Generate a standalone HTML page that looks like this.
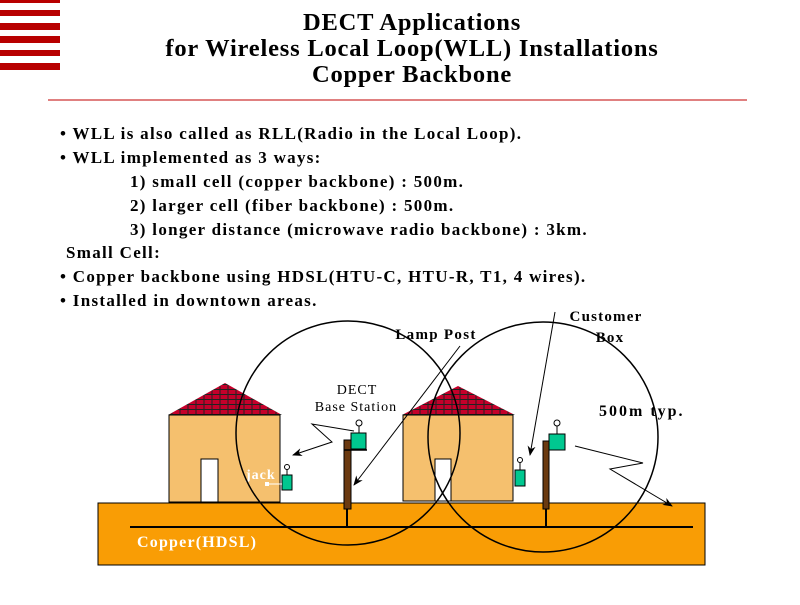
<!DOCTYPE html>
<html><head><style>body{margin:0;background:#fff}</style></head><body>
<svg width="800" height="600" xmlns="http://www.w3.org/2000/svg" font-family="Liberation Serif, serif" font-weight="bold">
<defs>
<pattern id="brick" width="8" height="5" patternUnits="userSpaceOnUse">
<rect width="8" height="5" fill="#c4002a"/>
<path d="M0 4.5H8M4 0V4.5" stroke="#222" stroke-width="1"/>
</pattern>
<marker id="ah" markerWidth="10" markerHeight="8" refX="9" refY="4" orient="auto"><path d="M0,0L10,4L0,8L3,4z" fill="#000"/></marker>
</defs>
<g fill="#b80000">
<rect x="0" y="0" width="60" height="3"/><rect x="0" y="10" width="60" height="6"/><rect x="0" y="23" width="60" height="7"/><rect x="0" y="36" width="60" height="7"/><rect x="0" y="50" width="60" height="6"/><rect x="0" y="63" width="60" height="7"/>
</g>
<g font-size="24.5" text-anchor="middle" letter-spacing="0.8">
<text x="412" y="30">DECT Applications</text>
<text x="412" y="56">for Wireless Local Loop(WLL) Installations</text>
<text x="412" y="82">Copper Backbone</text>
</g>
<line x1="48" y1="100" x2="747" y2="100" stroke="#c00000" stroke-width="1"/>
<g font-size="17" letter-spacing="1.3">
<text x="60" y="139">• WLL is also called as RLL(Radio in the Local Loop).</text>
<text x="60" y="163">• WLL implemented as 3 ways:</text>
<text x="130" y="187">1) small cell (copper backbone) : 500m.</text>
<text x="130" y="211">2) larger cell (fiber backbone) : 500m.</text>
<text x="130" y="235">3) longer distance (microwave radio backbone) : 3km.</text>
<text x="66" y="258">Small Cell:</text>
<text x="60" y="282">• Copper backbone using HDSL(HTU-C, HTU-R, T1, 4 wires).</text>
<text x="60" y="306">• Installed in downtown areas.</text>
</g>
<rect x="98" y="503" width="607" height="62" fill="#f99d05" stroke="#000"/>
<line x1="130" y1="527" x2="693" y2="527" stroke="#000" stroke-width="2"/>
<text x="137" y="547" font-size="16" fill="#fff" letter-spacing="1.2">Copper(HDSL)</text>
<polygon points="168,415 225,383 282,415" fill="url(#brick)"/>
<rect x="169" y="415" width="111" height="87" fill="#f5c06e" stroke="#000"/>
<rect x="201" y="459" width="17" height="43" fill="#fff" stroke="#000"/>
<polygon points="402,415 458,386 515,415" fill="url(#brick)"/>
<rect x="403" y="415" width="110" height="86" fill="#f5c06e" stroke="#000"/>
<rect x="435" y="459" width="16" height="42" fill="#fff" stroke="#000"/>
<line x1="347" y1="509" x2="347" y2="527" stroke="#000" stroke-width="2"/>
<rect x="344" y="440" width="7" height="69" fill="#6b3a10" stroke="#000"/>
<line x1="344" y1="450" x2="367" y2="450" stroke="#000" stroke-width="1.5"/>
<rect x="351" y="433" width="15" height="16" fill="#00c890" stroke="#000"/>
<circle cx="359" cy="423" r="3" fill="none" stroke="#000"/><line x1="359" y1="426" x2="359" y2="433" stroke="#000"/>
<line x1="546" y1="509" x2="546" y2="527" stroke="#000" stroke-width="2"/>
<rect x="543" y="441" width="6" height="68" fill="#6b3a10" stroke="#000"/>
<rect x="549" y="434" width="16" height="16" fill="#00c890" stroke="#000"/>
<circle cx="557" cy="423" r="3" fill="none" stroke="#000"/><line x1="557" y1="426" x2="557" y2="434" stroke="#000"/>
<rect x="282" y="475" width="10" height="15" fill="#00c890" stroke="#000"/>
<circle cx="287" cy="467" r="2.5" fill="none" stroke="#000"/><line x1="287" y1="469" x2="287" y2="475" stroke="#000"/>
<rect x="515" y="470" width="10" height="16" fill="#00c890" stroke="#000"/>
<circle cx="520" cy="460" r="2.5" fill="none" stroke="#000"/><line x1="520" y1="462" x2="520" y2="470" stroke="#000"/>
<text x="246" y="479" font-size="14" fill="#fff" letter-spacing="1">jack</text>
<rect x="265" y="482" width="4" height="4" fill="#fff"/><line x1="269" y1="484" x2="282" y2="484" stroke="#fff"/>
<circle cx="348" cy="433" r="112" fill="none" stroke="#000" stroke-width="1.5"/>
<circle cx="543" cy="437" r="115" fill="none" stroke="#000" stroke-width="1.5"/>
<text x="357" y="394" font-size="14" text-anchor="middle" font-weight="normal" letter-spacing="1">DECT</text>
<text x="356" y="411" font-size="14" text-anchor="middle" font-weight="normal" letter-spacing="1">Base Station</text>
<polyline points="354,431 312,424 332,442 293,455" fill="none" stroke="#000" marker-end="url(#ah)"/>
<text x="436" y="339" font-size="15" text-anchor="middle" letter-spacing="1.3">Lamp Post</text>
<line x1="460" y1="346" x2="354" y2="485" stroke="#000" marker-end="url(#ah)"/>
<text x="606" y="321" font-size="15" text-anchor="middle" letter-spacing="1.2">Customer</text>
<text x="610" y="342" font-size="15" text-anchor="middle" letter-spacing="1.2">Box</text>
<line x1="555" y1="312" x2="530" y2="455" stroke="#000" marker-end="url(#ah)"/>
<text x="599" y="416" font-size="16" letter-spacing="2">500m typ.</text>
<polyline points="575,446 643,463 610,469 672,506" fill="none" stroke="#000" marker-end="url(#ah)"/>
</svg>
</body></html>
